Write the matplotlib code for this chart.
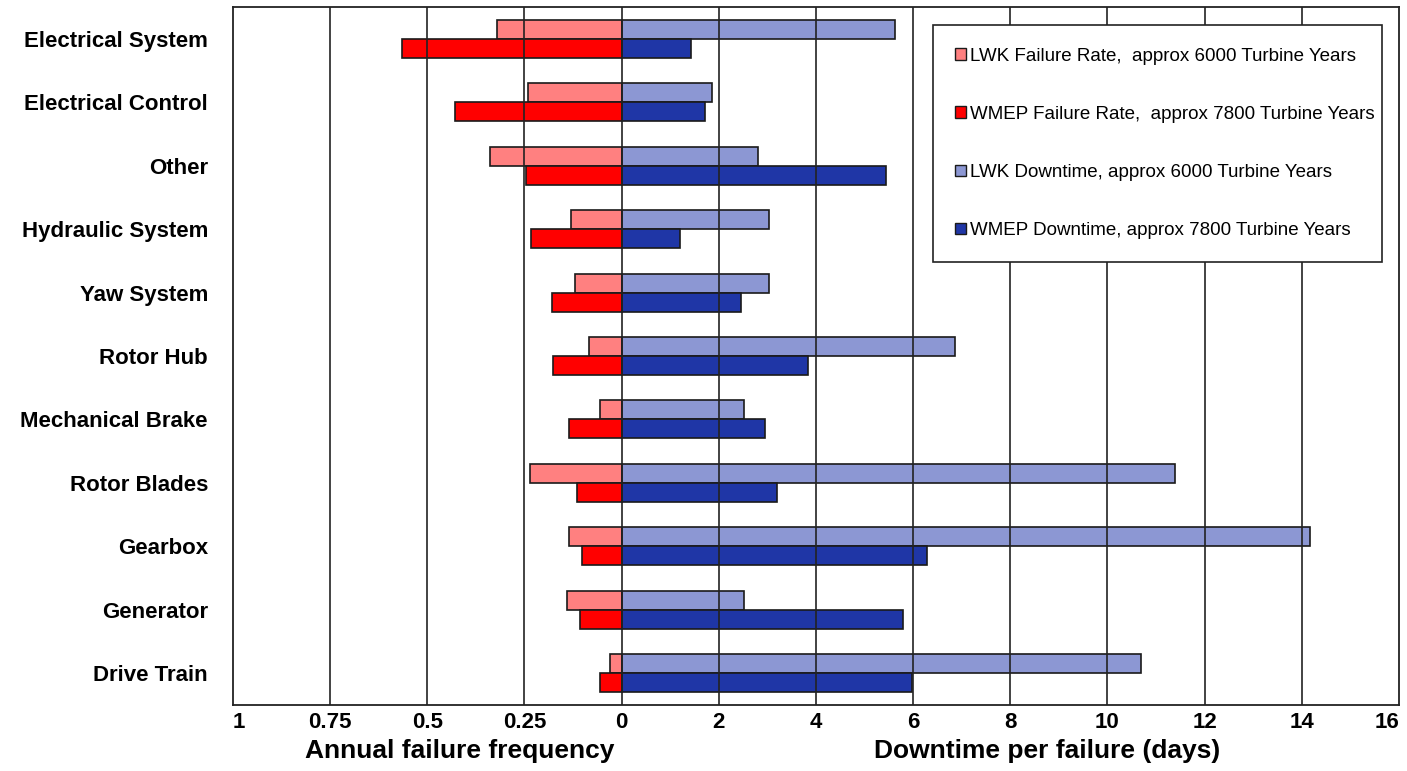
import numpy as np
import matplotlib.pyplot as plt
from matplotlib.patches import Patch
import matplotlib.transforms as mtransforms

# Componentes (de cima para baixo)
componentes = ['Electrical System', 'Electrical Control', 'Other', 'Hydraulic System',
               'Yaw System', 'Rotor Hub', 'Mechanical Brake', 'Rotor Blades',
               'Gearbox', 'Generator', 'Drive Train']

# Frequência anual de falhas
lwk_taxa = [0.32, 0.24, 0.34, 0.13, 0.12, 0.085, 0.056, 0.235, 0.136, 0.14, 0.03]
wmep_taxa = [0.565, 0.43, 0.245, 0.233, 0.18, 0.177, 0.136, 0.115, 0.102, 0.106, 0.056]

# Tempo de parada por falha (dias)
lwk_parada = [5.62, 1.85, 2.80, 3.03, 3.03, 6.87, 2.51, 11.39, 14.16, 2.51, 10.68]
wmep_parada = [1.42, 1.72, 5.45, 1.21, 2.45, 3.84, 2.95, 3.20, 6.29, 5.79, 5.97]

legendas = ['LWK Failure Rate,  approx 6000 Turbine Years',
            'WMEP Failure Rate,  approx 7800 Turbine Years',
            'LWK Downtime, approx 6000 Turbine Years',
            'WMEP Downtime, approx 7800 Turbine Years']

rotulos_esq = ['1', '0.75', '0.5', '0.25']
rotulos_dir = ['0', '2', '4', '6', '8', '10', '12', '14', '16']

# 1 falha/ano ocupa o mesmo espaço que 8 dias no eixo
ESCALA = 8.0

cor_lwk_taxa = '#FF8080'
cor_wmep_taxa = '#FF0000'
cor_lwk_parada = '#8C97D3'
cor_wmep_parada = '#1F36A6'
borda = '#1a1a1a'

plt.rcParams['font.family'] = ['Liberation Sans', 'DejaVu Sans']

fig = plt.figure(figsize=(14.07, 7.71), dpi=100)
ax = fig.add_axes([0.1656, 0.0856, 0.8287, 0.9053])

y = np.arange(len(componentes))
h = 0.3

ax.barh(y - h / 2, -np.array(lwk_taxa) * ESCALA, height=h, color=cor_lwk_taxa,
        edgecolor=borda, linewidth=1.2, zorder=2)
ax.barh(y + h / 2, -np.array(wmep_taxa) * ESCALA, height=h, color=cor_wmep_taxa,
        edgecolor=borda, linewidth=1.2, zorder=2)
ax.barh(y - h / 2, lwk_parada, height=h, color=cor_lwk_parada,
        edgecolor=borda, linewidth=1.2, zorder=2)
ax.barh(y + h / 2, wmep_parada, height=h, color=cor_wmep_parada,
        edgecolor=borda, linewidth=1.2, zorder=2)

ax.set_xlim(-8, 16)
ax.set_ylim(len(componentes) - 0.5, -0.5)

# ticks: lado esquerdo em frequência, lado direito em dias
pos_esq = [-8, -6, -4, -2]
pos_dir = [0, 2, 4, 6, 8, 10, 12, 14, 16]
ax.set_xticks(pos_esq + pos_dir)
ax.set_xticklabels(rotulos_esq + rotulos_dir, fontsize=16, fontweight='bold')
ax.tick_params(axis='x', length=0, pad=5)
tl = ax.get_xticklabels()
tl[0].set_ha('left')
tl[-1].set_ha('right')

ax.set_yticks(y)
ax.set_yticklabels(componentes, fontsize=16, fontweight='bold')
ax.tick_params(axis='y', length=0, pad=18)

# linhas de grade verticais por cima das barras
for xv in [-6, -4, -2, 0, 2, 4, 6, 8, 10, 12, 14]:
    ax.axvline(xv, color='#222222', linewidth=1.2, zorder=3)

for s in ax.spines.values():
    s.set_linewidth(1.3)
    s.set_color('#222222')

trans = mtransforms.blended_transform_factory(ax.transData, ax.transAxes)
ax.text(-3.33, -0.066, 'Annual failure frequency', transform=trans, ha='center',
        va='center', fontsize=19, fontweight='bold')
ax.text(8.75, -0.066, 'Downtime per failure (days)', transform=trans, ha='center',
        va='center', fontsize=19, fontweight='bold')

handles = [Patch(facecolor=c, edgecolor=borda, linewidth=1.0)
           for c in [cor_lwk_taxa, cor_wmep_taxa, cor_lwk_parada, cor_wmep_parada]]
leg = ax.legend(handles, legendas, loc='upper left',
                bbox_to_anchor=(0.6003, 0.9742, 0.385, 0.0), mode='expand',
                fontsize=13.5, frameon=True, fancybox=False, framealpha=1,
                edgecolor='#222222', handlelength=0.55, handleheight=0.55,
                handletextpad=0.25, labelspacing=2.2, borderpad=1.2,
                borderaxespad=0)
leg.get_frame().set_linewidth(1.2)
leg.set_zorder(5)

fig.savefig('out.png', dpi=100)
